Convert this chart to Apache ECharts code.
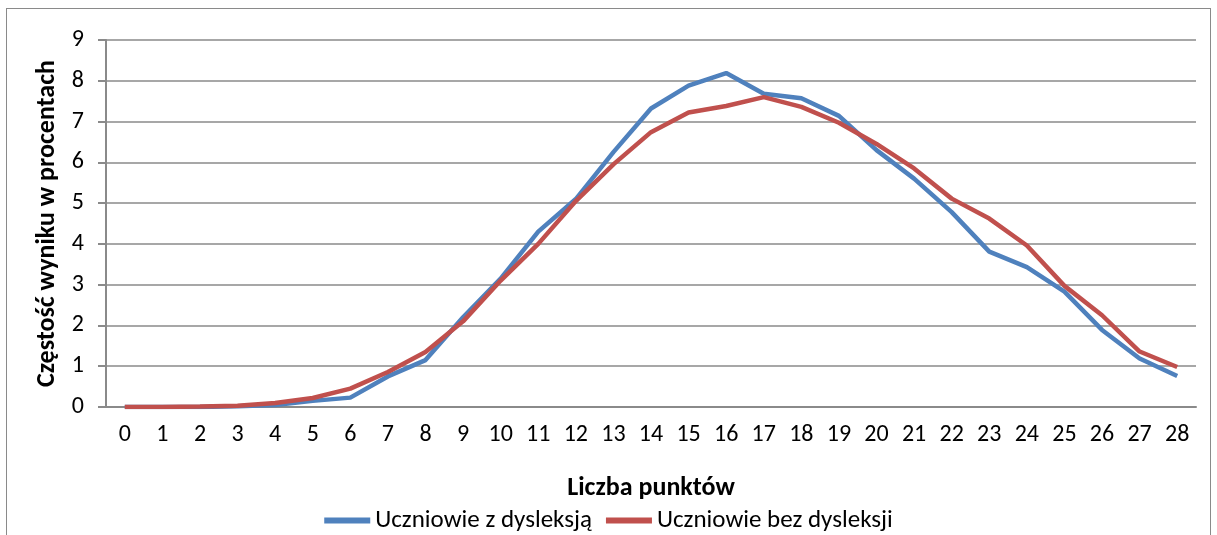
<!DOCTYPE html>
<html>
<head>
<meta charset="utf-8">
<script src="https://cdn.jsdelivr.net/npm/echarts@6/dist/echarts.min.js"></script>
<style>
  html, body { margin: 0; padding: 0; background: #fff; overflow: hidden; }
  #frame { position: absolute; left: 6px; top: 8px; width: 1205px; height: 600px; border: 1px solid #8a8a8a; box-sizing: border-box; }
  #chart { position: absolute; left: 0; top: 0; width: 1217px; height: 535px; }
</style>
</head>
<body>
<div id="frame"></div>
<div id="chart"></div>
<script>
// punkty 0..28
const categories = ['0','1','2','3','4','5','6','7','8','9','10','11','12','13','14','15','16','17','18','19','20','21','22','23','24','25','26','27','28'];
const zDysleksja = [0, 0, 0, 0.02, 0.05, 0.15, 0.23, 0.75, 1.15, 2.2, 3.15, 4.3, 5.1, 6.25, 7.32, 7.88, 8.19, 7.68, 7.57, 7.14, 6.3, 5.6, 4.78, 3.81, 3.43, 2.83, 1.89, 1.19, 0.76];
const bezDysleksji = [0, 0, 0.01, 0.03, 0.1, 0.22, 0.45, 0.86, 1.35, 2.1, 3.1, 4.0, 5.05, 5.95, 6.74, 7.22, 7.38, 7.6, 7.36, 6.97, 6.45, 5.85, 5.11, 4.62, 3.96, 2.97, 2.25, 1.36, 0.98];
const seriesNames = ['Uczniowie z dysleksją', 'Uczniowie bez dysleksji'];

const font = 'Carlito, Lato, "Liberation Sans", sans-serif';
const grey = '#8a8a8a';

const chart = echarts.init(document.getElementById('chart'));
chart.setOption({
  animation: false,
  textStyle: { fontFamily: font },
  grid: { left: 106, top: 40, right: 21, bottom: 128, containLabel: false },
  legend: {
    bottom: -3,
    left: 'center',
    itemWidth: 46,
    itemHeight: 6,
    itemGap: 14,
    icon: 'rect',
    textStyle: { fontFamily: font, fontSize: 25, color: '#000' },
    data: seriesNames
  },
  xAxis: {
    type: 'category',
    data: categories,
    boundaryGap: true,
    name: 'Liczba punktów',
    nameLocation: 'middle',
    nameGap: 68,
    nameTextStyle: { fontFamily: font, fontSize: 26, fontWeight: 'bold', color: '#000' },
    axisLine: { lineStyle: { color: grey, width: 2 } },
    axisTick: { show: false },
    axisLabel: { fontSize: 24, color: '#000', margin: 16, interval: 0 }
  },
  yAxis: {
    type: 'value',
    min: 0,
    max: 9,
    interval: 1,
    name: 'Częstość wyniku w procentach',
    nameLocation: 'middle',
    nameGap: 40,
    nameTextStyle: { fontFamily: font, fontSize: 26, fontWeight: 'bold', color: '#000' },
    axisLine: { show: true, lineStyle: { color: grey, width: 2 } },
    axisTick: { show: true, length: 8, lineStyle: { color: grey, width: 2 } },
    axisLabel: { fontSize: 24, color: '#000', margin: 22 },
    splitLine: { lineStyle: { color: grey, width: 1.5 } }
  },
  series: [
    {
      name: seriesNames[0],
      type: 'line',
      data: zDysleksja,
      symbol: 'none',
      color: '#4F81BD',
      lineStyle: { width: 4.5, color: '#4F81BD' }
    },
    {
      name: seriesNames[1],
      type: 'line',
      data: bezDysleksji,
      symbol: 'none',
      color: '#C0504D',
      lineStyle: { width: 4.5, color: '#C0504D' }
    }
  ]
});
</script>
</body>
</html>
